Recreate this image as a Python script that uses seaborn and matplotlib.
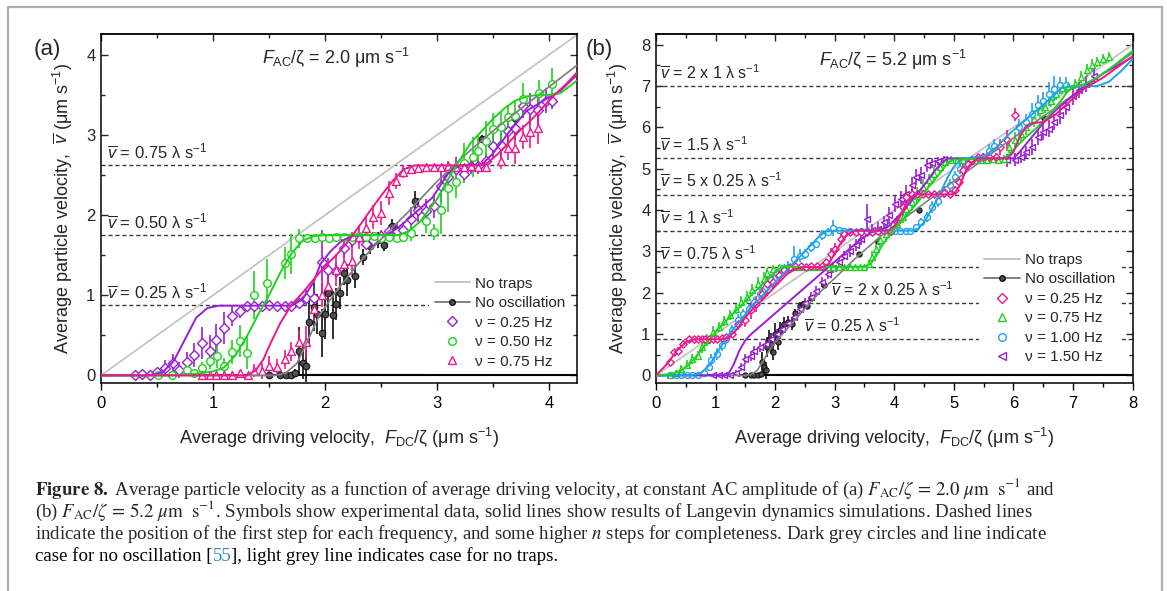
import matplotlib
matplotlib.use("Agg")
import matplotlib.pyplot as plt
from matplotlib.lines import Line2D
from matplotlib.ticker import MultipleLocator
import seaborn as sns

# ---------------- data : panel (a) ----------------
a_p25_x = [0.30,0.37,0.44,0.50,0.57,0.64,0.70,0.77,0.83,0.90,0.97,1.03,1.10,1.17,1.24,1.30,1.37,1.44,1.50,1.57,
           1.64,1.70,1.77,1.83,1.90,1.97,2.03,2.10,2.17,2.24,2.30,2.37,2.43,2.50,2.57,2.64,2.70,2.77,2.83,2.90,
           2.97,3.04,3.10,3.17,3.24,3.30,3.37,3.44,3.50,3.57,3.63,3.70,3.77,3.83,3.90,3.97,4.03]
a_p25_y = [0.01,0.02,0.00,0.04,0.09,0.15,0.07,0.17,0.25,0.40,0.31,0.44,0.59,0.74,0.80,0.86,0.86,0.86,0.88,0.87,
           0.87,0.87,0.90,0.96,0.96,1.41,1.32,1.30,1.59,1.69,1.73,1.64,1.69,1.74,1.80,1.80,1.81,1.95,2.06,2.05,
           2.11,2.36,2.47,2.58,2.51,2.61,2.61,2.67,2.86,2.88,3.05,3.09,3.36,3.33,3.31,3.43,3.43]
a_p25_e = [0.02,0.03,0.03,0.05,0.10,0.12,0.10,0.12,0.15,0.20,0.20,0.20,0.20,0.12,0.08,0.05,0.04,0.04,0.04,0.04,
           0.04,0.04,0.05,0.10,0.15,0.40,0.15,0.10,0.12,0.10,0.05,0.06,0.10,0.08,0.08,0.10,0.10,0.15,0.15,0.15,
           0.15,0.20,0.20,0.15,0.10,0.10,0.10,0.10,0.15,0.15,0.15,0.15,0.15,0.20,0.20,0.15,0.10]

a_p50_x = [0.51,0.63,0.77,0.83,0.90,0.97,1.04,1.10,1.17,1.24,1.30,1.37,1.48,1.64,1.70,1.77,1.84,1.91,1.97,2.04,
           2.10,2.17,2.24,2.30,2.37,2.44,2.50,2.57,2.64,2.70,2.77,2.90,2.97,3.04,3.10,3.17,3.24,3.32,3.37,3.44,
           3.50,3.57,3.63,3.70,3.77,3.91,4.03]
a_p50_y = [0.00,0.00,0.07,0.03,0.09,0.18,0.24,0.12,0.29,0.43,0.28,1.00,1.15,1.40,1.51,1.71,1.72,1.71,1.73,1.72,
           1.73,1.73,1.73,1.74,1.73,1.74,1.72,1.73,1.72,1.73,1.78,1.93,1.79,2.07,2.34,2.41,2.65,2.72,2.80,2.92,
           3.08,3.10,3.22,3.24,3.45,3.53,3.64]
a_p50_e = [0.02,0.02,0.05,0.05,0.08,0.10,0.15,0.10,0.15,0.20,0.20,0.30,0.30,0.20,0.25,0.12,0.05,0.04,0.03,0.03,
           0.03,0.03,0.03,0.03,0.03,0.03,0.03,0.03,0.03,0.04,0.10,0.15,0.10,0.30,0.30,0.20,0.25,0.25,0.20,0.25,
           0.20,0.20,0.15,0.20,0.20,0.15,0.20]

a_p75_x = [0.90,0.97,1.03,1.10,1.17,1.24,1.31,1.37,1.44,1.50,1.57,1.64,1.70,1.77,1.83,1.90,1.97,2.03,2.10,2.17,
           2.24,2.30,2.37,2.43,2.50,2.57,2.63,2.70,2.77,2.83,2.90,2.97,3.04,3.10,3.17,3.24,3.30,3.37,3.44,3.57,
           3.63,3.70,3.77,3.83,3.90]
a_p75_y = [0.00,0.00,0.00,0.00,0.01,0.03,0.00,0.06,0.05,0.12,0.10,0.20,0.30,0.42,0.42,0.83,1.00,1.12,1.32,1.39,
           1.43,1.73,1.84,1.98,2.03,2.27,2.43,2.54,2.57,2.59,2.60,2.60,2.60,2.61,2.60,2.60,2.61,2.60,2.60,2.68,
           2.84,2.84,2.98,3.04,3.09]
a_p75_e = [0.02,0.02,0.02,0.02,0.03,0.04,0.03,0.08,0.10,0.12,0.10,0.12,0.12,0.15,0.20,0.15,0.15,0.15,0.20,0.15,
           0.20,0.15,0.15,0.15,0.15,0.15,0.10,0.08,0.05,0.04,0.03,0.03,0.03,0.03,0.03,0.03,0.03,0.03,0.04,0.10,
           0.15,0.20,0.15,0.20,0.20]

a_nos_x = [1.50,1.60,1.65,1.70,1.73,1.77,1.80,1.83,1.86,1.90,1.93,1.97,2.00,2.03,2.07,2.10,2.13,2.17,2.20,2.27,
           2.34,2.40,2.47,2.53,2.60,2.80,3.40,3.70]
a_nos_y = [0.00,0.00,0.00,0.01,0.03,0.31,0.15,0.12,0.67,0.85,0.77,0.53,0.76,1.03,0.75,0.89,1.03,1.28,1.19,1.24,
           1.48,1.62,1.69,1.63,1.87,2.18,2.95,3.21]
a_nos_e = [0.02,0.02,0.03,0.03,0.05,0.30,0.20,0.20,0.30,0.30,0.25,0.30,0.30,0.25,0.30,0.20,0.20,0.15,0.20,0.15,
           0.10,0.10,0.10,0.08,0.08,0.12,0.05,0.05]

# simulation curves, panel (a)
a_sim25_x = [0,0.40,0.50,0.55,0.65,0.75,0.85,0.95,1.05,1.70,1.80,1.90,1.96,2.05,2.15,2.25,2.35,2.55,2.66,2.80,
             2.96,3.10,3.20,3.40,3.50,3.65,3.80,4.00,4.10,4.25]
a_sim25_y = [0,0.00,0.02,0.04,0.18,0.45,0.72,0.84,0.87,0.87,0.95,1.17,1.39,1.55,1.68,1.74,1.75,1.75,1.85,2.02,
             2.22,2.52,2.62,2.63,2.77,3.05,3.30,3.47,3.55,3.75]
a_sim50_x = [0,0.60,0.85,1.00,1.10,1.20,1.30,1.40,1.50,1.60,1.70,1.80,1.90,2.00,2.65,2.75,2.85,3.00,3.10,3.20,
             3.30,3.40,3.50,3.60,3.70,3.80,3.90,4.00,4.10,4.25]
a_sim50_y = [0,0.00,0.02,0.05,0.10,0.25,0.48,0.75,1.00,1.28,1.52,1.68,1.74,1.75,1.75,1.80,1.92,2.20,2.45,2.68,
             2.90,3.05,3.20,3.33,3.43,3.48,3.50,3.50,3.52,3.68]
a_sim75_x = [0,1.30,1.38,1.45,1.52,1.60,1.70,1.80,1.90,2.00,2.10,2.20,2.30,2.40,2.50,2.60,2.70,2.80,3.35,3.45,
             3.55,3.65,3.75,3.85,3.95,4.05,4.15,4.25]
a_sim75_y = [0,0.00,0.06,0.20,0.42,0.65,0.88,1.03,1.20,1.36,1.50,1.66,1.85,2.05,2.24,2.42,2.57,2.62,2.62,2.65,
             2.77,2.92,3.07,3.20,3.35,3.50,3.63,3.78]
a_simno_x = [0,1.55,1.65,1.75,1.85,1.95,2.10,2.30,2.50,2.75,3.00,3.25,3.50,3.75,4.00,4.25]
a_simno_y = [0,0.00,0.03,0.15,0.45,0.75,1.05,1.40,1.70,2.05,2.42,2.75,3.05,3.33,3.60,3.87]
a_notrap_x = [0, 4.25]
a_notrap_y = [0, 4.25]
a_steps = [0.875, 1.75, 2.625]
a_step_labels = ["0.25", "0.50", "0.75"]

# ---------------- data : panel (b) ----------------
b_p25_x = [0.23,0.30,0.37,0.45,0.55,0.63,0.70,0.77,0.83,0.89,0.96,1.03,1.10,1.18,1.27,1.37,1.49,1.59,1.68,1.78,
           1.87,1.97,2.06,2.15,2.25,2.34,2.43,2.52,2.61,2.70,2.78,2.85,2.94,3.00,3.10,3.16,3.26,3.35,3.45,3.54,
           3.63,3.72,3.82,3.95,4.04,4.14,4.20,4.30,4.39,4.48,4.57,4.66,4.75,4.84,4.93,5.02,5.08,5.15,5.24,5.30,
           5.40,5.49,5.59,5.71,5.78,5.90,6.03]
b_p25_y = [0.32,0.56,0.60,0.77,0.87,0.88,0.88,0.87,0.87,0.87,0.87,0.88,0.90,0.93,1.01,1.25,1.33,1.57,1.73,1.98,
           2.22,2.27,2.42,2.54,2.62,2.64,2.64,2.63,2.64,2.64,2.64,2.74,2.94,3.06,3.31,3.43,3.48,3.48,3.47,3.48,
           3.48,3.49,3.49,3.50,3.71,4.07,4.31,4.40,4.39,4.39,4.38,4.39,4.40,4.41,4.40,4.49,4.68,4.96,5.12,5.20,
           5.28,5.28,5.29,5.28,5.52,5.69,6.31]
b_p25_e = [0.08,0.08,0.08,0.08,0.06,0.05,0.05,0.05,0.05,0.05,0.05,0.05,0.06,0.08,0.10,0.15,0.15,0.20,0.20,0.15,
           0.30,0.15,0.15,0.10,0.08,0.05,0.05,0.05,0.05,0.05,0.05,0.08,0.15,0.15,0.15,0.10,0.06,0.05,0.05,0.05,
           0.05,0.05,0.05,0.05,0.15,0.20,0.15,0.10,0.05,0.05,0.05,0.05,0.05,0.05,0.05,0.10,0.15,0.20,0.15,0.10,
           0.08,0.08,0.08,0.10,0.20,0.25,0.15]

b_p75_x = [0.23,0.33,0.42,0.52,0.61,0.71,0.77,0.86,0.96,1.05,1.15,1.24,1.34,1.43,1.52,1.62,1.71,1.81,1.87,1.97,
           2.06,2.15,2.25,2.34,2.43,2.52,2.61,2.70,2.80,2.89,2.98,3.07,3.16,3.25,3.34,3.43,3.50,3.57,3.63,3.70,
           3.76,3.86,3.95,4.04,4.14,4.20,4.30,4.39,4.48,4.58,4.67,4.77,4.86,4.96,5.05,5.15,5.25,5.35,5.45,5.55,
           5.65,5.75,5.84,5.93,6.03,6.12,6.22,6.34,6.44,6.53,6.63,6.72,6.82,6.91,7.04,7.13,7.23,7.32,7.41,7.51,
           7.60]
b_p75_y = [0.00,0.06,0.16,0.26,0.40,0.48,0.69,0.85,1.05,1.17,1.31,1.45,1.61,1.77,1.90,2.06,2.22,2.34,2.48,2.58,
           2.62,2.62,2.62,2.61,2.62,2.62,2.61,2.62,2.62,2.61,2.62,2.62,2.61,2.62,2.62,2.62,2.63,2.70,2.86,3.06,
           3.28,3.43,3.51,3.67,3.83,4.03,4.19,4.35,4.56,4.72,4.88,5.04,5.16,5.22,5.22,5.21,5.22,5.21,5.22,5.22,
           5.23,5.22,5.24,5.52,5.69,5.85,6.01,6.21,6.41,6.49,6.65,6.81,6.96,6.99,7.06,7.22,7.38,7.50,7.58,7.66,
           7.70]
b_p75_e = [0.05,0.06,0.08,0.10,0.12,0.12,0.15,0.15,0.15,0.12,0.12,0.12,0.12,0.15,0.15,0.15,0.15,0.15,0.12,0.10,
           0.06,0.05,0.05,0.05,0.05,0.05,0.05,0.05,0.05,0.05,0.05,0.05,0.05,0.05,0.05,0.05,0.05,0.10,0.15,0.20,
           0.20,0.20,0.15,0.15,0.15,0.20,0.20,0.20,0.20,0.15,0.15,0.15,0.10,0.08,0.06,0.06,0.06,0.06,0.06,0.06,
           0.06,0.06,0.08,0.15,0.20,0.20,0.20,0.20,0.20,0.15,0.15,0.15,0.15,0.12,0.12,0.15,0.15,0.15,0.12,0.12,
           0.12]

b_p100_x = [0.23,0.33,0.42,0.52,0.61,0.71,0.80,0.89,0.93,1.02,1.10,1.18,1.27,1.37,1.46,1.56,1.65,1.74,1.84,1.93,
            2.03,2.12,2.22,2.31,2.41,2.50,2.60,2.69,2.78,2.88,2.97,3.07,3.16,3.25,3.35,3.45,3.54,3.63,3.73,3.82,
            3.92,4.01,4.10,4.20,4.26,4.36,4.45,4.55,4.64,4.74,4.83,4.93,5.02,5.11,5.21,5.30,5.40,5.49,5.59,5.68,
            6.09,6.22,6.31,6.41,6.50,6.60,6.69,6.78,6.88]
b_p100_y = [0.00,0.00,0.00,0.00,0.00,0.02,0.06,0.20,0.36,0.52,0.73,0.89,1.09,1.33,1.49,1.61,1.77,1.98,2.14,2.30,
            2.46,2.54,2.62,2.82,2.90,2.94,3.10,3.19,3.39,3.47,3.56,3.51,3.49,3.49,3.48,3.49,3.49,3.48,3.49,3.49,
            3.48,3.49,3.49,3.49,3.49,3.59,3.71,3.83,4.07,4.23,4.44,4.60,4.80,5.00,5.12,5.18,5.20,5.28,5.44,5.56,
            6.00,6.13,6.33,6.53,6.65,6.81,6.94,7.02,7.02]
b_p100_e = [0.04,0.04,0.04,0.04,0.04,0.05,0.06,0.10,0.15,0.15,0.15,0.12,0.12,0.15,0.12,0.12,0.12,0.15,0.15,0.15,
            0.12,0.12,0.15,0.30,0.15,0.12,0.12,0.12,0.12,0.10,0.20,0.08,0.05,0.05,0.05,0.05,0.05,0.05,0.05,0.05,
            0.05,0.05,0.05,0.05,0.05,0.08,0.10,0.12,0.15,0.15,0.15,0.15,0.15,0.12,0.10,0.08,0.08,0.10,0.15,0.15,
            0.20,0.20,0.25,0.25,0.20,0.30,0.30,0.20,0.20]

b_p150_x = [0.96,1.05,1.15,1.24,1.34,1.43,1.49,1.59,1.65,1.74,1.84,1.93,2.03,2.12,2.22,2.31,2.41,2.50,2.60,2.69,
            2.78,2.88,2.97,3.07,3.16,3.26,3.35,3.45,3.54,3.63,3.73,3.82,3.92,4.01,4.11,4.20,4.30,4.36,4.45,4.55,
            4.64,4.74,4.83,5.90,6.03,6.12,6.22,6.31,6.41,6.50,6.60,6.69,6.78,6.88,7.00,7.10,7.22,7.35]
b_p150_y = [0.00,0.00,0.00,0.00,0.06,0.20,0.40,0.46,0.60,0.68,0.77,0.88,1.00,1.12,1.27,1.42,1.60,1.75,1.90,2.05,
            2.25,2.45,2.60,2.75,2.90,3.02,3.15,3.30,3.79,3.51,3.55,3.71,3.87,4.15,4.27,4.40,4.60,4.80,4.84,5.08,
            5.14,5.19,5.23,5.20,5.22,5.28,5.40,5.52,5.77,5.89,5.97,6.13,6.29,6.49,6.75,6.90,7.05,7.25]
b_p150_e = [0.04,0.04,0.04,0.04,0.06,0.10,0.12,0.12,0.12,0.12,0.12,0.12,0.12,0.15,0.12,0.12,0.15,0.12,0.12,0.12,
            0.12,0.12,0.12,0.12,0.12,0.15,0.15,0.15,0.35,0.15,0.15,0.15,0.20,0.20,0.20,0.20,0.20,0.20,0.20,0.15,
            0.12,0.10,0.08,0.15,0.15,0.15,0.15,0.20,0.20,0.20,0.20,0.20,0.20,0.20,0.20,0.20,0.20,0.20]

b_nos_x = [1.49,1.59,1.65,1.71,1.76,1.78,1.81,1.84,1.87,1.90,1.93,1.97,2.00,2.04,2.09,2.15,2.22,2.28,2.34,2.41,
           2.47,2.53,2.60,2.82,3.40,3.72,4.41,6.51]
b_nos_y = [0.00,0.00,0.00,0.00,0.04,0.32,0.20,0.12,0.69,0.85,0.77,0.56,1.01,0.81,1.09,1.25,1.29,1.25,1.51,1.69,
           1.73,1.69,1.87,2.18,2.94,3.25,3.99,6.23]
b_nos_e = [0.02,0.02,0.03,0.03,0.05,0.25,0.20,0.20,0.25,0.25,0.25,0.20,0.25,0.20,0.20,0.15,0.15,0.15,0.10,0.08,
           0.08,0.08,0.08,0.08,0.05,0.05,0.05,0.05]

b_sim25_x = [0,0.10,0.20,0.35,0.50,0.60,0.70,1.10,1.20,1.35,1.50,1.65,1.80,2.00,2.20,2.35,2.50,2.80,2.90,3.00,
             3.10,3.20,3.30,3.40,3.90,4.00,4.10,4.20,4.30,4.40,5.00,5.10,5.20,5.30,5.40,5.90,6.00,6.10,6.20,6.30,
             6.50,6.70,7.00,7.20,7.50,8.00]
b_sim25_y = [0,0.15,0.30,0.60,0.80,0.86,0.875,0.875,0.90,1.10,1.40,1.65,1.85,2.15,2.45,2.58,2.62,2.62,2.70,2.95,
             3.20,3.40,3.48,3.50,3.50,3.60,3.85,4.15,4.33,4.38,4.38,4.60,4.95,5.15,5.25,5.25,5.40,5.75,6.00,6.10,
             6.13,6.30,6.70,6.95,7.20,7.72]
b_sim75_x = [0,0.25,0.40,0.55,0.70,0.85,1.00,1.20,1.40,1.60,1.80,2.00,2.10,2.20,3.50,3.60,3.70,3.80,3.90,4.00,
             4.20,4.40,4.60,4.80,4.90,5.00,5.80,5.90,6.00,6.20,6.40,6.60,6.80,6.90,7.00,7.20,7.40,7.60,8.00]
b_sim75_y = [0,0.03,0.10,0.25,0.50,0.78,1.05,1.35,1.65,1.95,2.22,2.50,2.60,2.625,2.625,2.70,2.90,3.15,3.35,3.55,
             3.85,4.20,4.60,4.95,5.15,5.22,5.25,5.30,5.45,5.75,6.00,6.30,6.65,6.85,6.98,7.05,7.20,7.40,7.85]
b_sim100_x = [0,0.60,0.75,0.90,1.05,1.20,1.40,1.60,1.80,2.00,2.20,2.40,2.60,2.75,2.85,3.00,4.30,4.40,4.50,4.60,
              4.70,4.80,4.90,5.00,5.10,5.20,5.50,5.70,5.90,6.10,6.30,6.50,6.70,6.80,7.00,7.40,7.60,7.80,8.00]
b_sim100_y = [0,0.00,0.05,0.25,0.60,0.95,1.30,1.65,1.95,2.25,2.55,2.85,3.15,3.38,3.48,3.50,3.50,3.55,3.70,3.95,
              4.20,4.50,4.80,5.05,5.20,5.25,5.30,5.50,5.80,6.05,6.30,6.55,6.80,6.95,7.00,7.00,7.10,7.35,7.65]
b_sim150_x = [0,1.20,1.30,1.40,1.50,1.60,1.80,2.00,2.20,2.40,2.60,2.80,3.00,3.20,3.40,3.60,3.75,3.90,4.10,4.30,
              4.50,4.65,4.80,4.90,6.00,6.10,6.30,6.50,6.70,6.90,7.20,7.50,8.00]
b_sim150_y = [0,0.00,0.25,0.60,0.85,1.00,1.25,1.50,1.75,2.00,2.25,2.50,2.75,3.00,3.25,3.45,3.52,3.60,3.90,4.25,
              4.60,4.90,5.15,5.25,5.25,5.40,5.75,6.10,6.40,6.65,7.00,7.30,7.70]
b_simno_x = [0,1.50,1.60,1.70,1.80,1.90,2.00,2.20,2.40,2.60,2.80,3.00,3.40,3.80,4.40,5.00,6.00,7.00,8.00]
b_simno_y = [0,0.00,0.02,0.12,0.35,0.60,0.80,1.12,1.45,1.78,2.08,2.35,2.90,3.40,4.05,4.70,5.75,6.78,7.80]
b_notrap_x = [0, 8]
b_notrap_y = [0, 8]
b_steps_full = [3.5, 4.375, 5.25, 7.0]
b_steps_part = [0.875, 1.75, 2.625]

# ---------------- style ----------------
sns.set_style("ticks")
plt.rcParams['font.family'] = ['Liberation Sans', 'DejaVu Sans']
plt.rcParams['mathtext.fontset'] = 'custom'
plt.rcParams['mathtext.rm'] = 'Liberation Sans'
plt.rcParams['mathtext.it'] = 'Liberation Sans:italic'
plt.rcParams['mathtext.bf'] = 'Liberation Sans:bold'
plt.rcParams['axes.linewidth'] = 1.1

PURPLE = '#9A1ED6'
GREEN = '#1CD41C'
MAGENTA = '#F0168C'
CYAN = '#1FA2F0'
DARK = '#505050'
NOTRAP = '#C4C4C4'
NOOSC = '#808080'

W, H = 1167, 591
fig = plt.figure(figsize=(W / 100, H / 100), dpi=100)
axA = fig.add_axes([101 / W, (H - 383) / H, 476 / W, 349 / H])
axB = fig.add_axes([656 / W, (H - 383) / H, 476.5 / W, 349 / H])


def data_series(ax, x, y, e, color, marker, s, lw=1.0, ecolor=None, filled=False):
    ax.errorbar(x, y, yerr=e, fmt='none', ecolor=ecolor or color, elinewidth=1.2, capsize=0, zorder=2)
    if filled:
        sns.scatterplot(x=x, y=y, ax=ax, marker=marker, s=s, color=DARK, edgecolor='#111111',
                        linewidth=0.8, zorder=3, legend=False)
    else:
        sns.scatterplot(x=x, y=y, ax=ax, marker=marker, s=s, color='white', edgecolor=color,
                        linewidth=lw, zorder=3, legend=False)


def sim_line(ax, x, y, color, lw=1.4, z=4):
    sns.lineplot(x=x, y=y, ax=ax, color=color, lw=lw, sort=False, estimator=None, zorder=z, legend=False)


def style_axes(ax, xmax, ymin, ymax):
    ax.set_xlim(0, xmax)
    ax.set_ylim(ymin, ymax)
    ax.xaxis.set_major_locator(MultipleLocator(1))
    ax.xaxis.set_minor_locator(MultipleLocator(0.5))
    ax.yaxis.set_major_locator(MultipleLocator(1))
    ax.yaxis.set_minor_locator(MultipleLocator(0.5))
    ax.tick_params(axis='x', which='both', direction='out', labelsize=12, pad=4, colors='black')
    ax.tick_params(axis='x', which='major', length=5, width=1.0)
    ax.tick_params(axis='x', which='minor', length=3, width=1.0)
    ax.tick_params(axis='y', which='both', direction='in', left=True, right=True, labelsize=12, pad=4)
    ax.tick_params(axis='y', which='major', length=5, width=1.0)
    ax.tick_params(axis='y', which='minor', length=3, width=1.0)
    for sp in ax.spines.values():
        sp.set_visible(True)
        sp.set_color('black')
    sec = ax.secondary_xaxis('top')
    sec.xaxis.set_major_locator(MultipleLocator(1))
    sec.xaxis.set_minor_locator(MultipleLocator(0.5))
    sec.tick_params(which='both', direction='in', labeltop=False)
    sec.tick_params(which='major', length=5, width=1.0)
    sec.tick_params(which='minor', length=3, width=1.0)
    ax.set_xlabel(r"Average driving velocity,  $F_{\rm DC}$/ζ (μm s$^{-1}$)", fontsize=13, labelpad=11)
    ax.set_ylabel(r"Average particle velocity,  $\overline{v}$ (μm s$^{-1}$)", fontsize=13, labelpad=8)


def legend_for(ax, entries, anchor):
    handles = [Line2D([], [], color=NOTRAP, lw=1.4),
               Line2D([], [], color=NOOSC, lw=1.4, marker='o', ms=4, mfc=DARK, mec='#111111')]
    labels = ["No traps", "No oscillation"]
    for lab, col, mk in entries:
        handles.append(Line2D([], [], ls='none', marker=mk, ms=5.5, mfc='white', mec=col, mew=1.0))
        labels.append(lab)
    leg = ax.legend(handles, labels, loc='upper left', bbox_to_anchor=anchor, fontsize=11,
                    frameon=True, facecolor='white', edgecolor='none', framealpha=1, fancybox=False,
                    handlelength=2.3, handletextpad=0.35, labelspacing=0.36, borderpad=0.35,
                    borderaxespad=0)
    leg.set_zorder(10)


DASH = (0, (3.0, 2.0))

# ---------------- panel (a) ----------------
ax = axA
for yv in a_steps:
    ax.axhline(yv, color='#3a3a3a', lw=1.0, ls=DASH, zorder=1)
ax.axhline(0, color='black', lw=1.5, zorder=1.5)
sim_line(ax, a_notrap_x, a_notrap_y, NOTRAP, lw=1.3, z=1.2)
data_series(ax, a_nos_x, a_nos_y, a_nos_e, DARK, 'o', 22, ecolor='#111111', filled=True)
data_series(ax, a_p25_x, a_p25_y, a_p25_e, PURPLE, 'D', 26)
data_series(ax, a_p50_x, a_p50_y, a_p50_e, GREEN, 'o', 30)
data_series(ax, a_p75_x, a_p75_y, a_p75_e, MAGENTA, '^', 32)
sim_line(ax, a_simno_x, a_simno_y, NOOSC, lw=1.3)
sim_line(ax, a_sim25_x, a_sim25_y, PURPLE)
sim_line(ax, a_sim50_x, a_sim50_y, GREEN)
sim_line(ax, a_sim75_x, a_sim75_y, MAGENTA)
style_axes(ax, 4.25, -0.095, 4.26)
for yv, lab in zip(a_steps, a_step_labels):
    ax.text(0.05, yv + 0.05, r"$\overline{v}$ = " + lab + r" λ s$^{-1}$", fontsize=12, va='bottom', ha='left')
ax.text(2.1, 3.96, r"$F_{\rm AC}$/ζ = 2.0 μm s$^{-1}$", fontsize=13, ha='center', va='center')
legend_for(ax, [("ν = 0.25 Hz", PURPLE, 'D'), ("ν = 0.50 Hz", GREEN, 'o'), ("ν = 0.75 Hz", MAGENTA, '^')],
           (0.69, 0.32))
fig.text(34 / W, 1 - 50 / H, "(a)", fontsize=16, ha='left', va='center')

# ---------------- panel (b) ----------------
ax = axB
for yv in b_steps_full + b_steps_part:
    ax.axhline(yv, color='#3a3a3a', lw=1.0, ls=DASH, zorder=1)
ax.axhline(0, color='black', lw=1.5, zorder=1.5)
sim_line(ax, b_notrap_x, b_notrap_y, NOTRAP, lw=1.3, z=1.2)
data_series(ax, b_nos_x, b_nos_y, b_nos_e, DARK, 'o', 14, ecolor='#111111', filled=True)
data_series(ax, b_p150_x, b_p150_y, b_p150_e, PURPLE, '<', 18)
data_series(ax, b_p100_x, b_p100_y, b_p100_e, CYAN, 'o', 18)
data_series(ax, b_p75_x, b_p75_y, b_p75_e, GREEN, '^', 18)
data_series(ax, b_p25_x, b_p25_y, b_p25_e, MAGENTA, 'D', 14)
sim_line(ax, b_simno_x, b_simno_y, NOOSC, lw=1.2)
sim_line(ax, b_sim150_x, b_sim150_y, PURPLE)
sim_line(ax, b_sim100_x, b_sim100_y, CYAN)
sim_line(ax, b_sim75_x, b_sim75_y, GREEN)
sim_line(ax, b_sim25_x, b_sim25_y, MAGENTA)
style_axes(ax, 8, -0.185, 8.26)
b_labels = [(0.06, 7.0, "2 x 1"), (0.06, 5.25, "1.5"), (0.06, 4.375, "5 x 0.25"), (0.06, 3.5, "1"),
            (0.06, 2.625, "0.75"), (2.93, 1.75, "2 x 0.25"), (2.49, 0.875, "0.25")]
for xv, yv, lab in b_labels:
    ax.text(xv, yv + 0.1, r"$\overline{v}$ = " + lab + r" λ s$^{-1}$", fontsize=11.5, va='bottom', ha='left')
ax.text(3.98, 7.62, r"$F_{\rm AC}$/ζ = 5.2 μm s$^{-1}$", fontsize=13, ha='center', va='center')
legend_for(ax, [("ν = 0.25 Hz", MAGENTA, 'D'), ("ν = 0.75 Hz", GREEN, '^'),
                ("ν = 1.00 Hz", CYAN, 'o'), ("ν = 1.50 Hz", PURPLE, '<')], (0.678, 0.388))
fig.text(586 / W, 1 - 50 / H, "(b)", fontsize=16, ha='left', va='center')

# ---------------- frame ----------------
FRAME = '#ADADAD'
fig.add_artist(Line2D([8 / W, 8 / W], [0, 1 - 7 / H], color=FRAME, lw=1.6, transform=fig.transFigure))
fig.add_artist(Line2D([1162 / W, 1162 / W], [0, 1 - 7 / H], color=FRAME, lw=1.6, transform=fig.transFigure))
fig.add_artist(Line2D([8 / W, 1162 / W], [1 - 7 / H, 1 - 7 / H], color=FRAME, lw=1.6, transform=fig.transFigure))

# ---------------- caption ----------------
cap_lines = [
    r"$\mathbf{Figure\ 8.}$ Average particle velocity as a function of average driving velocity, at constant AC amplitude of (a) $F_{\mathrm{AC}}/\zeta\,=\,2.0\ \mu\mathrm{m\ \ s}^{-1}$ and",
    r"(b) $F_{\mathrm{AC}}/\zeta\,=\,5.2\ \mu\mathrm{m\ \ s}^{-1}$. Symbols show experimental data, solid lines show results of Langevin dynamics simulations. Dashed lines",
    r"indicate the position of the first step for each frequency, and some higher $n$ steps for completeness. Dark grey circles and line indicate",
]
cap_last = ["case for no oscillation [", "55", "], light grey line indicates case for no traps."]
cap_x0 = 35
cap_base = [495, 517, 539, 561]
target_w = 1127 - 35

renderer = fig.canvas.get_renderer()
cap_kw = dict(family='Liberation Serif', math_fontfamily='stix', va='baseline', ha='left')
t0 = fig.text(cap_x0 / W, 1 - cap_base[0] / H, cap_lines[0], fontsize=12, **cap_kw)
w0 = t0.get_window_extent(renderer).width
fs = 0.93 * 12 * target_w / w0
t0.set_fontsize(fs)
for i in (1, 2):
    fig.text(cap_x0 / W, 1 - cap_base[i] / H, cap_lines[i], fontsize=fs, **cap_kw)
xpos = cap_x0
for piece, col in zip(cap_last, ['black', '#2E8BC9', 'black']):
    t = fig.text(xpos / W, 1 - cap_base[3] / H, piece, fontsize=fs, color=col, **cap_kw)
    xpos += t.get_window_extent(renderer).width

fig.savefig("out.png", dpi=100)
